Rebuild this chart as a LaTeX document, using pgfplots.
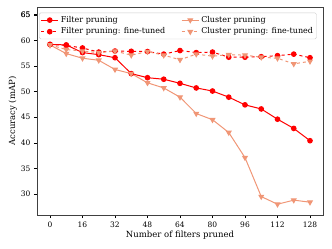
\documentclass[border=0pt]{standalone}
\usepackage{pgfplots}
\pgfplotsset{compat=1.18}
\usepackage{fontspec}
\setmainfont{DejaVu Serif}
\definecolor{fred}{RGB}{255,0,0}
\definecolor{csal}{RGB}{240,150,118}
\begin{document}
\begin{tikzpicture}
\begin{axis}[
  name=ax,
  scale only axis, width=286pt, height=208pt,
  xmin=-6.4, xmax=134.4, ymin=25.9, ymax=66.5,
  xtick={0,16,32,48,64,80,96,112,128}, ytick={30,35,40,45,50,55,60,65},
  tick style={black}, tick align=outside, major tick length=3pt,
  xtick pos=bottom, ytick pos=left,
  /pgf/number format/assume math mode=true,
  ticklabel style={font=\fontsize{7.5}{9}\selectfont},
  xlabel={Number of filters pruned}, ylabel={Accuracy (mAP)},
  label style={font=\fontsize{8.5}{10}\selectfont},
  xlabel style={yshift=3pt}, ylabel style={yshift=-3pt},
  axis line style={black!75},
  legend columns=2,
  legend style={at={(rel axis cs:0.007,0.973)}, anchor=north west, font=\fontsize{8}{9}\selectfont, draw=gray!40, rounded corners=1.5pt, inner sep=1.5pt, row sep=0pt, /tikz/every even column/.append style={column sep=14pt}},
  legend cell align=left,
  every axis plot/.append style={line width=1pt},
]
\addplot[fred, mark=*, mark size=2.3pt] coordinates {
(0,59.2)(8,59.1)(16,57.6)(24,57.2)(32,56.6)(40,53.5)(48,52.7)(56,52.4)(64,51.6)(72,50.7)(80,50.1)(88,48.9)(96,47.4)(104,46.6)(112,44.6)(120,42.8)(128,40.4)};
\addlegendentry{Filter pruning}
\addplot[csal, mark=triangle*, mark size=2.6pt, every mark/.append style={rotate=180}] coordinates {
(0,59.1)(8,57.4)(16,56.5)(24,56.1)(32,54.3)(40,53.5)(48,51.7)(56,50.7)(64,48.9)(72,45.7)(80,44.5)(88,42.0)(96,37.1)(104,29.5)(112,28.0)(120,28.8)(128,28.4)};
\addlegendentry{Cluster pruning}
\addplot[fred, dashed, mark=*, mark size=2.3pt, mark options={solid}] coordinates {
(0,59.2)(8,59.0)(16,58.5)(24,57.7)(32,57.9)(40,57.85)(48,57.8)(56,57.3)(64,58.0)(72,57.6)(80,57.7)(88,56.7)(96,56.7)(104,56.8)(112,57.0)(120,57.3)(128,56.6)};
\addlegendentry{Filter pruning: fine-tuned}
\addplot[csal, dashed, mark=triangle*, mark size=2.6pt, mark options={solid, rotate=180}] coordinates {
(0,59.1)(8,58.2)(16,57.9)(24,57.6)(32,57.9)(40,57.1)(48,57.8)(56,57.1)(64,56.2)(72,57.3)(80,56.9)(88,57.2)(96,57.1)(104,56.7)(112,56.5)(120,55.4)(128,55.9)};
\addlegendentry{Cluster pruning: fine-tuned}
\end{axis}
\draw[black] ([yshift={(65-25.9)/40.6*208pt}]ax.south west) -- ++(-3pt,0);
\node[anchor=east, font=\fontsize{7.5}{9}\selectfont] at ([xshift=-3pt, yshift={(65-25.9)/40.6*208pt}]ax.south west) {65};
\pgfresetboundingbox
\useasboundingbox ([shift={(-37pt,-34pt)}]ax.south west) rectangle ([shift={(9pt,7pt)}]ax.north east);
\end{tikzpicture}
\end{document}
